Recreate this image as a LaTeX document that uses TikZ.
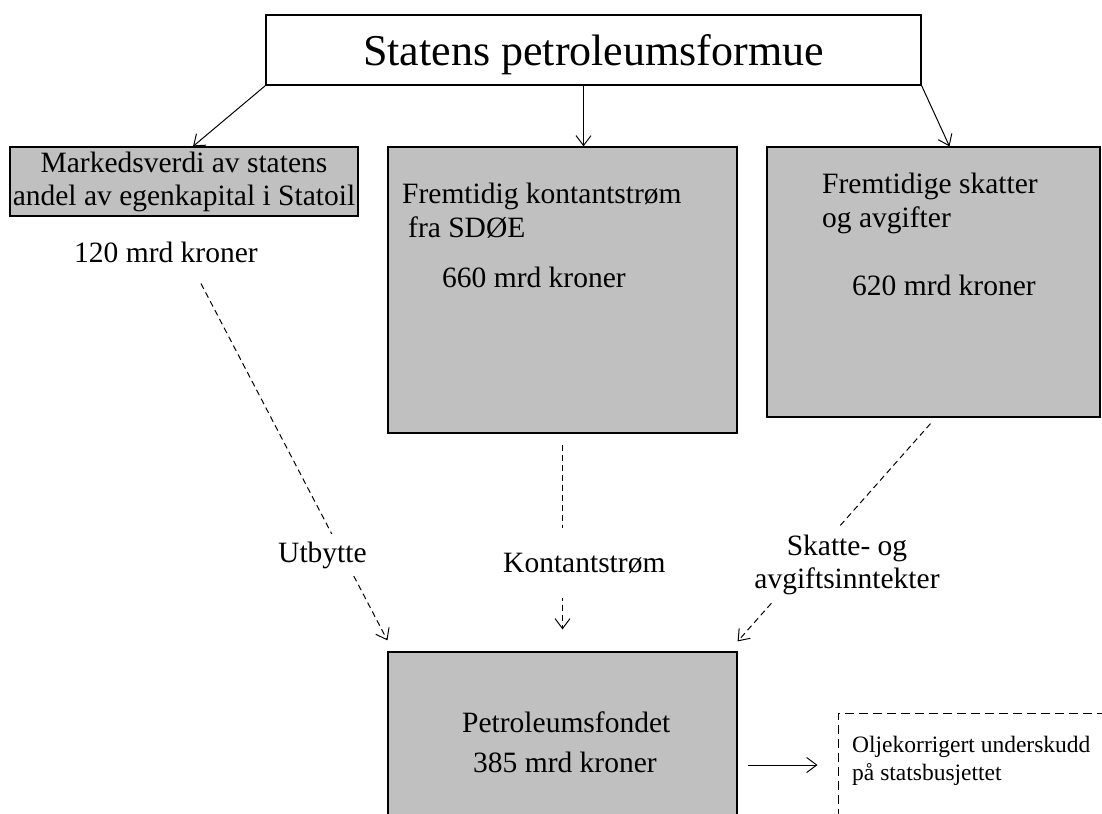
\documentclass[tikz,border=0pt]{standalone}
\usepackage{fontspec}
\setmainfont{Liberation Serif}
\usepackage{tikz}
\usetikzlibrary{arrows.meta,shapes}
\definecolor{boxgray}{RGB}{192,192,192}

\begin{document}
\begin{tikzpicture}[
  >={Straight Barb[length=10bp,width=15bp]},
  graybox/.style={draw,fill=boxgray,line width=1.2pt,inner sep=0pt},
  txt/.style={anchor=base west,inner sep=0pt,font=\fontsize{29.5bp}{34bp}\selectfont},
  smalltxt/.style={anchor=base west,inner sep=0pt,font=\fontsize{23.5bp}{28bp}\selectfont},
  flow/.style={dash pattern=on 6bp off 4bp,line width=1pt},
  flowlabel/.style={fill=white,inner xsep=2bp,font=\fontsize{29.5bp}{33bp}\selectfont}
]
\useasboundingbox (0bp,0bp) rectangle (1102bp,-814bp);
\clip (0bp,0bp) rectangle (1102bp,-814bp);

\node (SP) at (593.5bp,-50bp)[draw,line width=1.2pt,minimum width=655bp,minimum height=70bp,inner sep=0pt,text depth=0pt,font=\fontsize{44bp}{44bp}\selectfont] {Statens petroleumsformue};
\node (MV) at (184bp,-181.5bp)[graybox,minimum width=348bp,minimum height=69bp,align=center,font=\fontsize{29.5bp}{33bp}\selectfont] {Markedsverdi av statens\\andel av egenkapital i Statoil};
\node (KS) at (562.5bp,-290bp)[graybox,minimum width=349bp,minimum height=286bp] {};
\node (SA) at (933.5bp,-282bp)[graybox,minimum width=333bp,minimum height=270bp] {};
\node (PF) at (562.5bp,-765bp)[graybox,minimum width=349bp,minimum height=226bp] {};
\node (OK) at (988bp,-813bp)[draw,dash pattern=on 9bp off 5bp,line width=1pt,minimum width=300bp,minimum height=200bp] {};

\node (V1) at (74bp,-262bp)[txt] {120 mrd kroner};
\node (KS1) at (402bp,-203bp)[txt] {Fremtidig kontantstrøm};
\node (KS2) at (408bp,-237bp)[txt] {fra SDØE};
\node (V2) at (442bp,-287bp)[txt] {660 mrd kroner};
\node (SA1) at (822bp,-193bp)[txt] {Fremtidige skatter};
\node (SA2) at (822bp,-227bp)[txt] {og avgifter};
\node (V3) at (852bp,-295bp)[txt] {620 mrd kroner};
\node (PF1) at (462bp,-732bp)[txt] {Petroleumsfondet};
\node (V4) at (473bp,-772bp)[txt] {385 mrd kroner};
\node (OK1) at (852bp,-752bp)[smalltxt] {Oljekorrigert underskudd};
\node (OK2) at (852bp,-780bp)[smalltxt] {på statsbusjettet};

\draw [->,line width=1pt] (SP.south west) -- ([xshift=9bp]MV.north);
\draw [->,line width=1pt] ([xshift=-10bp]SP.south) -- ([xshift=-10bp]SP.south |- KS.north);
\draw [->,line width=1pt] (SP.south east) -- ([xshift=16bp]SA.north);
\draw [->,line width=1pt,shorten <=10bp,shorten >=20bp] (PF.east) -- (PF.east -| OK.west);

\draw [flow,->] ([xshift=35bp,yshift=-21bp]V1.south) -- ([yshift=11bp]PF.north west);
\draw [flow,->] ([yshift=-11bp]KS.south) -- ([yshift=22bp]PF.north);
\draw [flow,->] ([xshift=-3bp,yshift=-6bp]SA.south) -- ([yshift=10bp]PF.north east);

\node (UT) at (276bp,-562bp)[flowlabel,anchor=base west,inner ysep=8bp] {Utbytte};
\node (KT) at (501bp,-572bp)[flowlabel,anchor=base west,inner ysep=25bp] {Kontantstrøm};
\node (SK) at (847bp,-588bp)[flowlabel,anchor=base,inner ysep=9bp,align=center] {Skatte- og\\avgiftsinntekter};
\end{tikzpicture}
\end{document}
